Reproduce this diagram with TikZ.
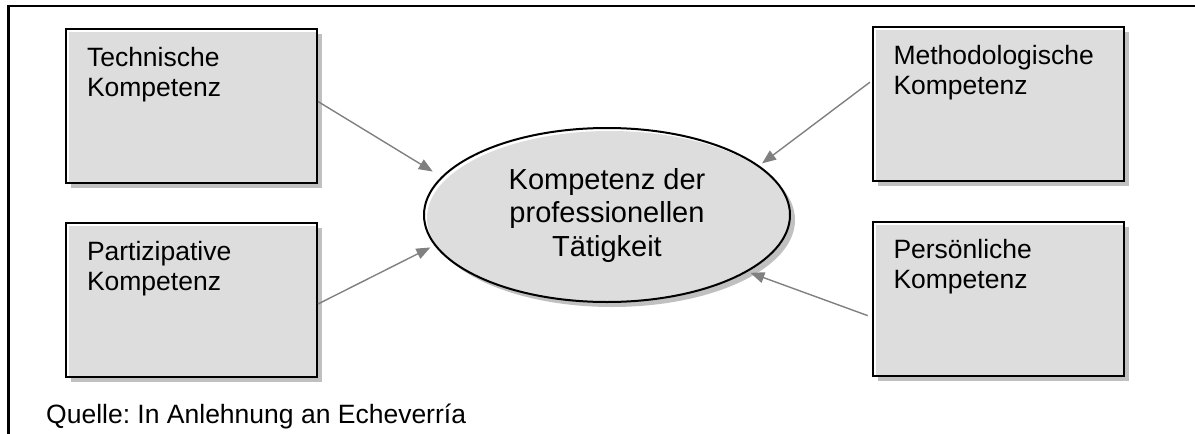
\documentclass[tikz,border=0pt]{standalone}
\usepackage{fontspec}
\setmainfont{Liberation Sans}
\usetikzlibrary{arrows.meta,shadows,shapes.geometric}

\definecolor{boxfill}{HTML}{DDDDDD}
\definecolor{shadowgray}{HTML}{C0C0C0}
\definecolor{arrowgray}{HTML}{808080}

\frenchspacing

\tikzset{
  frameline/.style={line width=2.2pt, line cap=rect},
  boxshadow/.style={drop shadow={shadow xshift=5pt, shadow yshift=-5pt,
      fill=shadowgray, opacity=1}},
  % rectangle with a white bevel on its top and left edges
  kbox/.style={rectangle, draw=black, line width=2pt, fill=white, boxshadow,
    minimum width=251pt, minimum height=154pt, inner xsep=21pt, inner ysep=18pt,
    font=\fontsize{26.5}{30}\selectfont,
    path picture={\fill[boxfill]
      ([shift={(3pt,-3pt)}]path picture bounding box.south west) rectangle
      ([shift={(3pt,-3pt)}]path picture bounding box.north east);}},
  % central ellipse with the same bevel
  kell/.style={ellipse, draw=black, line width=2pt, fill=white, boxshadow,
    minimum width=366pt, minimum height=174pt, align=center,
    font=\fontsize{29}{33.5}\selectfont,
    path picture={\fill[boxfill]
      ([shift={(3pt,-3pt)}]path picture bounding box.center)
      ellipse [x radius=183pt, y radius=87pt];}},
  arrowline/.style={draw=arrowgray, line width=1.4pt,
    -{Triangle[length=14pt, width=11pt]}},
  note/.style={font=\fontsize{26.5}{30}\selectfont, inner sep=0pt, anchor=base west},
}

\newcommand{\boxtext}[1]{\parbox[c][118pt][t]{209pt}{#1}}

\begin{document}
\begin{tikzpicture}[x=1pt, y=-1pt]
  \useasboundingbox (0,0) rectangle (1195,434);

  % open frame: top and left rules only
  \draw[frameline] (8.5,434) -- (8.5,6) -- (1195,6);

  \node[kell] (ell) at (607,215) {Kompetenz der\\professionellen\\Tätigkeit};

  \node[kbox] (tech) at (191.5,106) {\boxtext{Technische\\Kompetenz}};
  \node[kbox] (part) at (191.5,300) {\boxtext{Partizipative\\Kompetenz}};
  \node[kbox] (meth) at (998,104)   {\boxtext{Methodologische\\Kompetenz}};
  \node[kbox] (pers) at (998,298.5) {\boxtext{Persönliche\\Kompetenz}};

  \draw[arrowline, shorten >=10pt] ([yshift=4.5pt]tech.east) -- (ell.167.5);
  \draw[arrowline, shorten >=4.5pt] ([yshift=-4pt]part.east) -- (ell.190.3);
  \draw[arrowline, shorten >=3.6pt, shorten <=2pt] ([yshift=23pt]meth.west) -- (ell.18.4);
  \draw[arrowline, shorten >=3pt, shorten <=4pt] ([yshift=-18.5pt]pers.west) -- (ell.338.3);

  \node[note] (src) at (46,423) {Quelle: In Anlehnung an Echeverría};
\end{tikzpicture}
\end{document}
